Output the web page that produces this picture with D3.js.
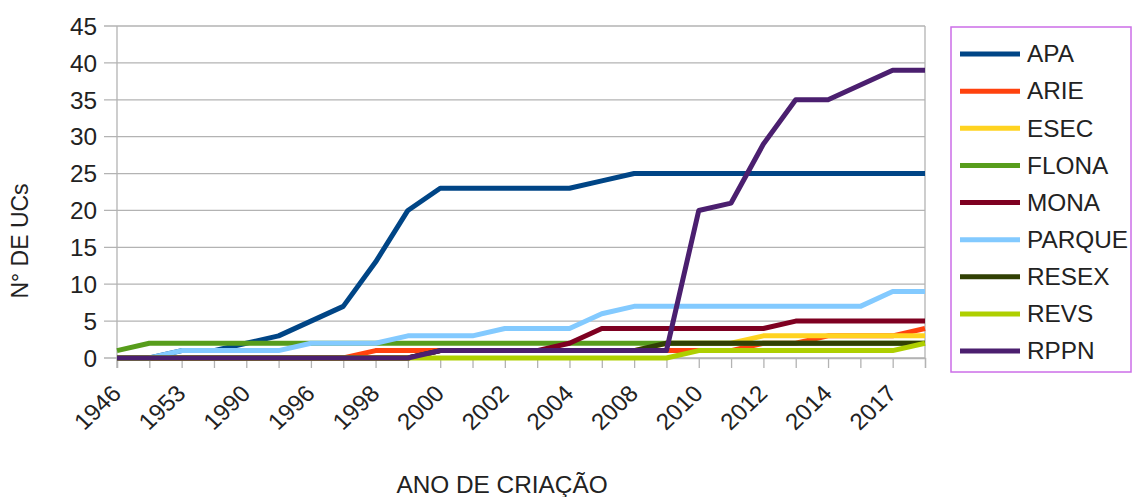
<!DOCTYPE html>
<html><head><meta charset="utf-8">
<script src="https://cdn.jsdelivr.net/npm/d3@7"></script>
<style>
html,body{margin:0;padding:0;background:#fff;}
text{font-family:"Liberation Sans",Arial,sans-serif;fill:#222;}
</style></head>
<body>
<svg id="c" width="1136" height="497"></svg>
<script>
// Categories (every other label shown on the axis)
const years = ["1946","1950","1953","1986","1990","1992","1996","1997","1998","1999","2000","2001","2002","2003","2004","2006","2008","2009","2010","2011","2012","2013","2014","2016","2017","2018"];
const seriesNames = ["APA","ARIE","ESEC","FLONA","MONA","PARQUE","RESEX","REVS","RPPN"];
const APA    = [0,0,1,1,2,3,5,7,13,20,23,23,23,23,23,24,25,25,25,25,25,25,25,25,25,25];
const ARIE   = [0,0,0,0,0,0,0,0,1,1,1,1,1,1,1,1,1,1,1,1,2,2,3,3,3,4];
const ESEC   = [0,0,0,0,0,0,0,0,0,0,1,1,1,1,1,1,1,2,2,2,3,3,3,3,3,3];
const FLONA  = [1,2,2,2,2,2,2,2,2,2,2,2,2,2,2,2,2,2,2,2,2,2,2,2,2,2];
const MONA   = [0,0,0,0,0,0,0,0,0,0,1,1,1,1,2,4,4,4,4,4,4,5,5,5,5,5];
const PARQUE = [0,0,1,1,1,1,2,2,2,3,3,3,4,4,4,6,7,7,7,7,7,7,7,7,9,9];
const RESEX  = [0,0,0,0,0,0,0,0,0,0,1,1,1,1,1,1,1,2,2,2,2,2,2,2,2,2];
const REVS   = [0,0,0,0,0,0,0,0,0,0,0,0,0,0,0,0,0,0,1,1,1,1,1,1,1,2];
const RPPN   = [0,0,0,0,0,0,0,0,0,0,1,1,1,1,1,1,1,1,20,21,29,35,35,37,39,39];
const colors = ["#004586","#ff420e","#ffd320","#579d1c","#7e0021","#83caff","#314004","#aecf00","#4b1f6f"];
const yTicks = [0,5,10,15,20,25,30,35,40,45];

const values = [APA,ARIE,ESEC,FLONA,MONA,PARQUE,RESEX,REVS,RPPN];
const series = seriesNames.map((n,i)=>({name:n,color:colors[i],vals:values[i]}));

const svg = d3.select("#c");
const FS = 23, SX = 1.06;
const x = d3.scalePoint().domain(years).range([117,925]);
const y = d3.scaleLinear().domain([0,45]).range([358,26]);

// grid
svg.append("g").selectAll("line").data(yTicks).join("line")
  .attr("x1",104).attr("x2",925).attr("y1",d=>y(d)).attr("y2",d=>y(d))
  .attr("stroke","#b3b3b3").attr("stroke-width",1.3);
svg.append("line").attr("x1",925).attr("x2",925).attr("y1",y(45)).attr("y2",y(0))
  .attr("stroke","#b3b3b3").attr("stroke-width",1.3);
svg.append("line").attr("x1",117).attr("x2",117).attr("y1",y(45)).attr("y2",y(0)+10)
  .attr("stroke","#b3b3b3").attr("stroke-width",1.3);

// y axis labels
const yAxis = d3.axisLeft(y).tickValues(yTicks).tickSize(0).tickPadding(0);
const gy = svg.append("g").attr("transform","translate(97,0)").call(yAxis);
gy.select(".domain").remove();
gy.selectAll(".tick text").attr("x",0).attr("y",0).attr("dy","0.36em")
  .attr("transform",`scale(${SX},1)`)
  .style("font-size",FS+"px").style("font-family","Liberation Sans, Arial, sans-serif").attr("fill","#222");

// x axis ticks
const xAxis = d3.axisBottom(x).tickSize(10).tickFormat((d,i)=> i%2===0 ? d : "");
const gx = svg.append("g").attr("transform","translate(0,358)").call(xAxis);
gx.select(".domain").attr("stroke","#b3b3b3").attr("stroke-width",1.3);
gx.selectAll(".tick line").attr("stroke","#b3b3b3").attr("stroke-width",1.3);
gx.selectAll(".tick text")
  .style("font-size",FS+"px").style("font-family","Liberation Sans, Arial, sans-serif").attr("fill","#222")
  .attr("text-anchor","end").attr("dy",0).attr("y",0)
  .attr("transform",`translate(5,37) scale(${SX},1) rotate(-45)`);

// lines
const line = d3.line().x((d,i)=>x(years[i])).y(d=>y(d)).curve(d3.curveLinear);
svg.append("g").selectAll("path").data(series).join("path")
  .attr("d",d=>line(d.vals)).attr("fill","none").attr("stroke",d=>d.color)
  .attr("stroke-width",5).attr("stroke-linejoin","round").attr("stroke-linecap","butt");

// legend
const lg = svg.append("g");
lg.append("rect").attr("x",951).attr("y",27).attr("width",180).attr("height",345)
  .attr("fill","#fff").attr("stroke","#cc6ee8").attr("stroke-width",1.5);
const ly = d3.scalePoint().domain(seriesNames).range([54,351]);
const items = lg.selectAll("g.it").data(series).join("g").attr("class","it")
  .attr("transform",d=>`translate(0,${ly(d.name)})`);
items.append("line").attr("x1",960).attr("x2",1020).attr("y1",0).attr("y2",0)
  .attr("stroke",d=>d.color).attr("stroke-width",5);
items.append("text").attr("transform",`translate(1027,0) scale(${SX},1)`).attr("dy","0.36em")
  .style("font-size",FS+"px").text(d=>d.name);

// axis titles
svg.append("text").attr("transform",`translate(502,493) scale(${SX},1)`).attr("text-anchor","middle")
  .style("font-size",FS+"px").text("ANO DE CRIAÇÃO");
svg.append("text").attr("transform",`translate(28,241) scale(${SX},1) rotate(-90)`).attr("text-anchor","middle")
  .style("font-size",FS+"px").text("N° DE UCs");
</script>
</body></html>
